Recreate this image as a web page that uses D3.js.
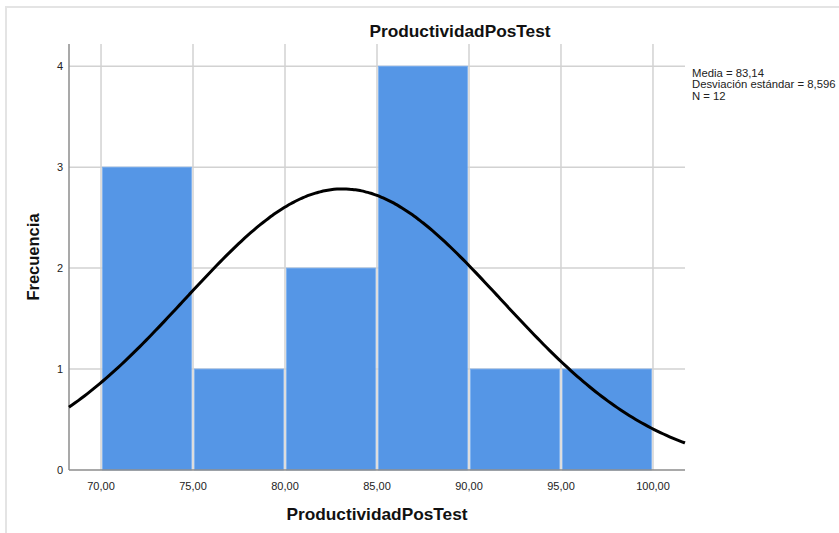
<!DOCTYPE html>
<html><head><meta charset="utf-8">
<script src="https://cdn.jsdelivr.net/npm/d3@7"></script>
<style>body{margin:0;background:#fff;} text{font-family:"Liberation Sans",Arial,sans-serif;}</style>
</head><body>
<svg id="c" width="839" height="533"></svg>
<script>
const binStarts = [70, 75, 80, 85, 90, 95];
const binWidth = 5;
const counts = [3, 1, 2, 4, 1, 1];
const xTicks = [70, 75, 80, 85, 90, 95, 100];
const yTicks = [0, 1, 2, 3, 4];
const mean = 83.14, sd = 8.596, n = 12;
const statsLines = ["Media = 83,14", "Desviación estándar = 8,596", "N = 12"];
const title = "ProductividadPosTest";
const xLabel = "ProductividadPosTest";
const yLabel = "Frecuencia";

const svg = d3.select("#c");
const L = 69, R = 685, T = 44, B = 470;
const x = d3.scaleLinear().domain([68.26, 101.74]).range([L, R]);
const y = d3.scaleLinear().domain([0, 4.22]).range([B, T]);

// frame
svg.append("line").attr("x1",5).attr("x2",839).attr("y1",7).attr("y2",7).attr("stroke","#e4e4e4").attr("stroke-width",2);
svg.append("line").attr("x1",6).attr("x2",6).attr("y1",7).attr("y2",533).attr("stroke","#e4e4e4").attr("stroke-width",2);

// gridlines
svg.append("g").selectAll("line").data(xTicks).join("line")
  .attr("x1",d=>x(d)).attr("x2",d=>x(d)).attr("y1",T).attr("y2",B)
  .attr("stroke","#d2d2d2").attr("stroke-width",1.5);
svg.append("g").selectAll("line").data(yTicks.filter(d=>d>0)).join("line")
  .attr("x1",L).attr("x2",R).attr("y1",d=>y(d)).attr("y2",d=>y(d))
  .attr("stroke","#d2d2d2").attr("stroke-width",1.5);

// bars
svg.append("g").selectAll("rect").data(binStarts).join("rect")
  .attr("x",(d)=>x(d)+1.5).attr("width",(d)=>x(d+binWidth)-x(d)-3)
  .attr("y",(d,i)=>y(counts[i])).attr("height",(d,i)=>y(0)-y(counts[i]))
  .attr("fill","#5596e6").attr("stroke","#7aaeee").attr("stroke-width",0.8);

// axes
svg.append("line").attr("x1",L).attr("x2",L).attr("y1",T).attr("y2",B).attr("stroke","#8c8c8c").attr("stroke-width",1.5);
svg.append("line").attr("x1",L).attr("x2",R).attr("y1",B).attr("y2",B).attr("stroke","#8c8c8c").attr("stroke-width",1.5);

// normal curve
const scale = n * binWidth;
const pdf = v => scale / (sd*Math.sqrt(2*Math.PI)) * Math.exp(-0.5*((v-mean)/sd)**2);
const xs = d3.range(0, 201).map(i => 68.26 + (101.74-68.26)*i/200);
svg.append("path").datum(xs)
  .attr("d", d3.line().x(d=>x(d)).y(d=>y(pdf(d))).curve(d3.curveBasis))
  .attr("fill","none").attr("stroke","#000").attr("stroke-width",3);

// tick labels
svg.append("g").selectAll("text").data(yTicks).join("text")
  .attr("x",63).attr("y",d=>y(d)+4).attr("text-anchor","end").attr("font-size",11).attr("fill","#222").text(d=>d);
svg.append("g").selectAll("text").data(xTicks).join("text")
  .attr("x",d=>x(d)).attr("y",490).attr("text-anchor","middle").attr("font-size",11).attr("fill","#222")
  .text(d=>d3.format(".2f")(d).replace(".",","));

// titles
svg.append("text").attr("x",460).attr("y",37).attr("text-anchor","middle").attr("font-size",17.3).attr("font-weight","bold").attr("fill","#111").text(title);
svg.append("text").attr("x",377).attr("y",520).attr("text-anchor","middle").attr("font-size",17.3).attr("font-weight","bold").attr("fill","#111").text(xLabel);
svg.append("text").attr("transform","translate(39,257) rotate(-90)").attr("text-anchor","middle").attr("font-size",16.5).attr("font-weight","bold").attr("fill","#111").text(yLabel);

// stats
svg.append("g").selectAll("text").data(statsLines).join("text")
  .attr("x",692).attr("y",(d,i)=>76.5+i*11.6).attr("font-size",11.3).attr("fill","#222").text(d=>d);
</script>
</body></html>
